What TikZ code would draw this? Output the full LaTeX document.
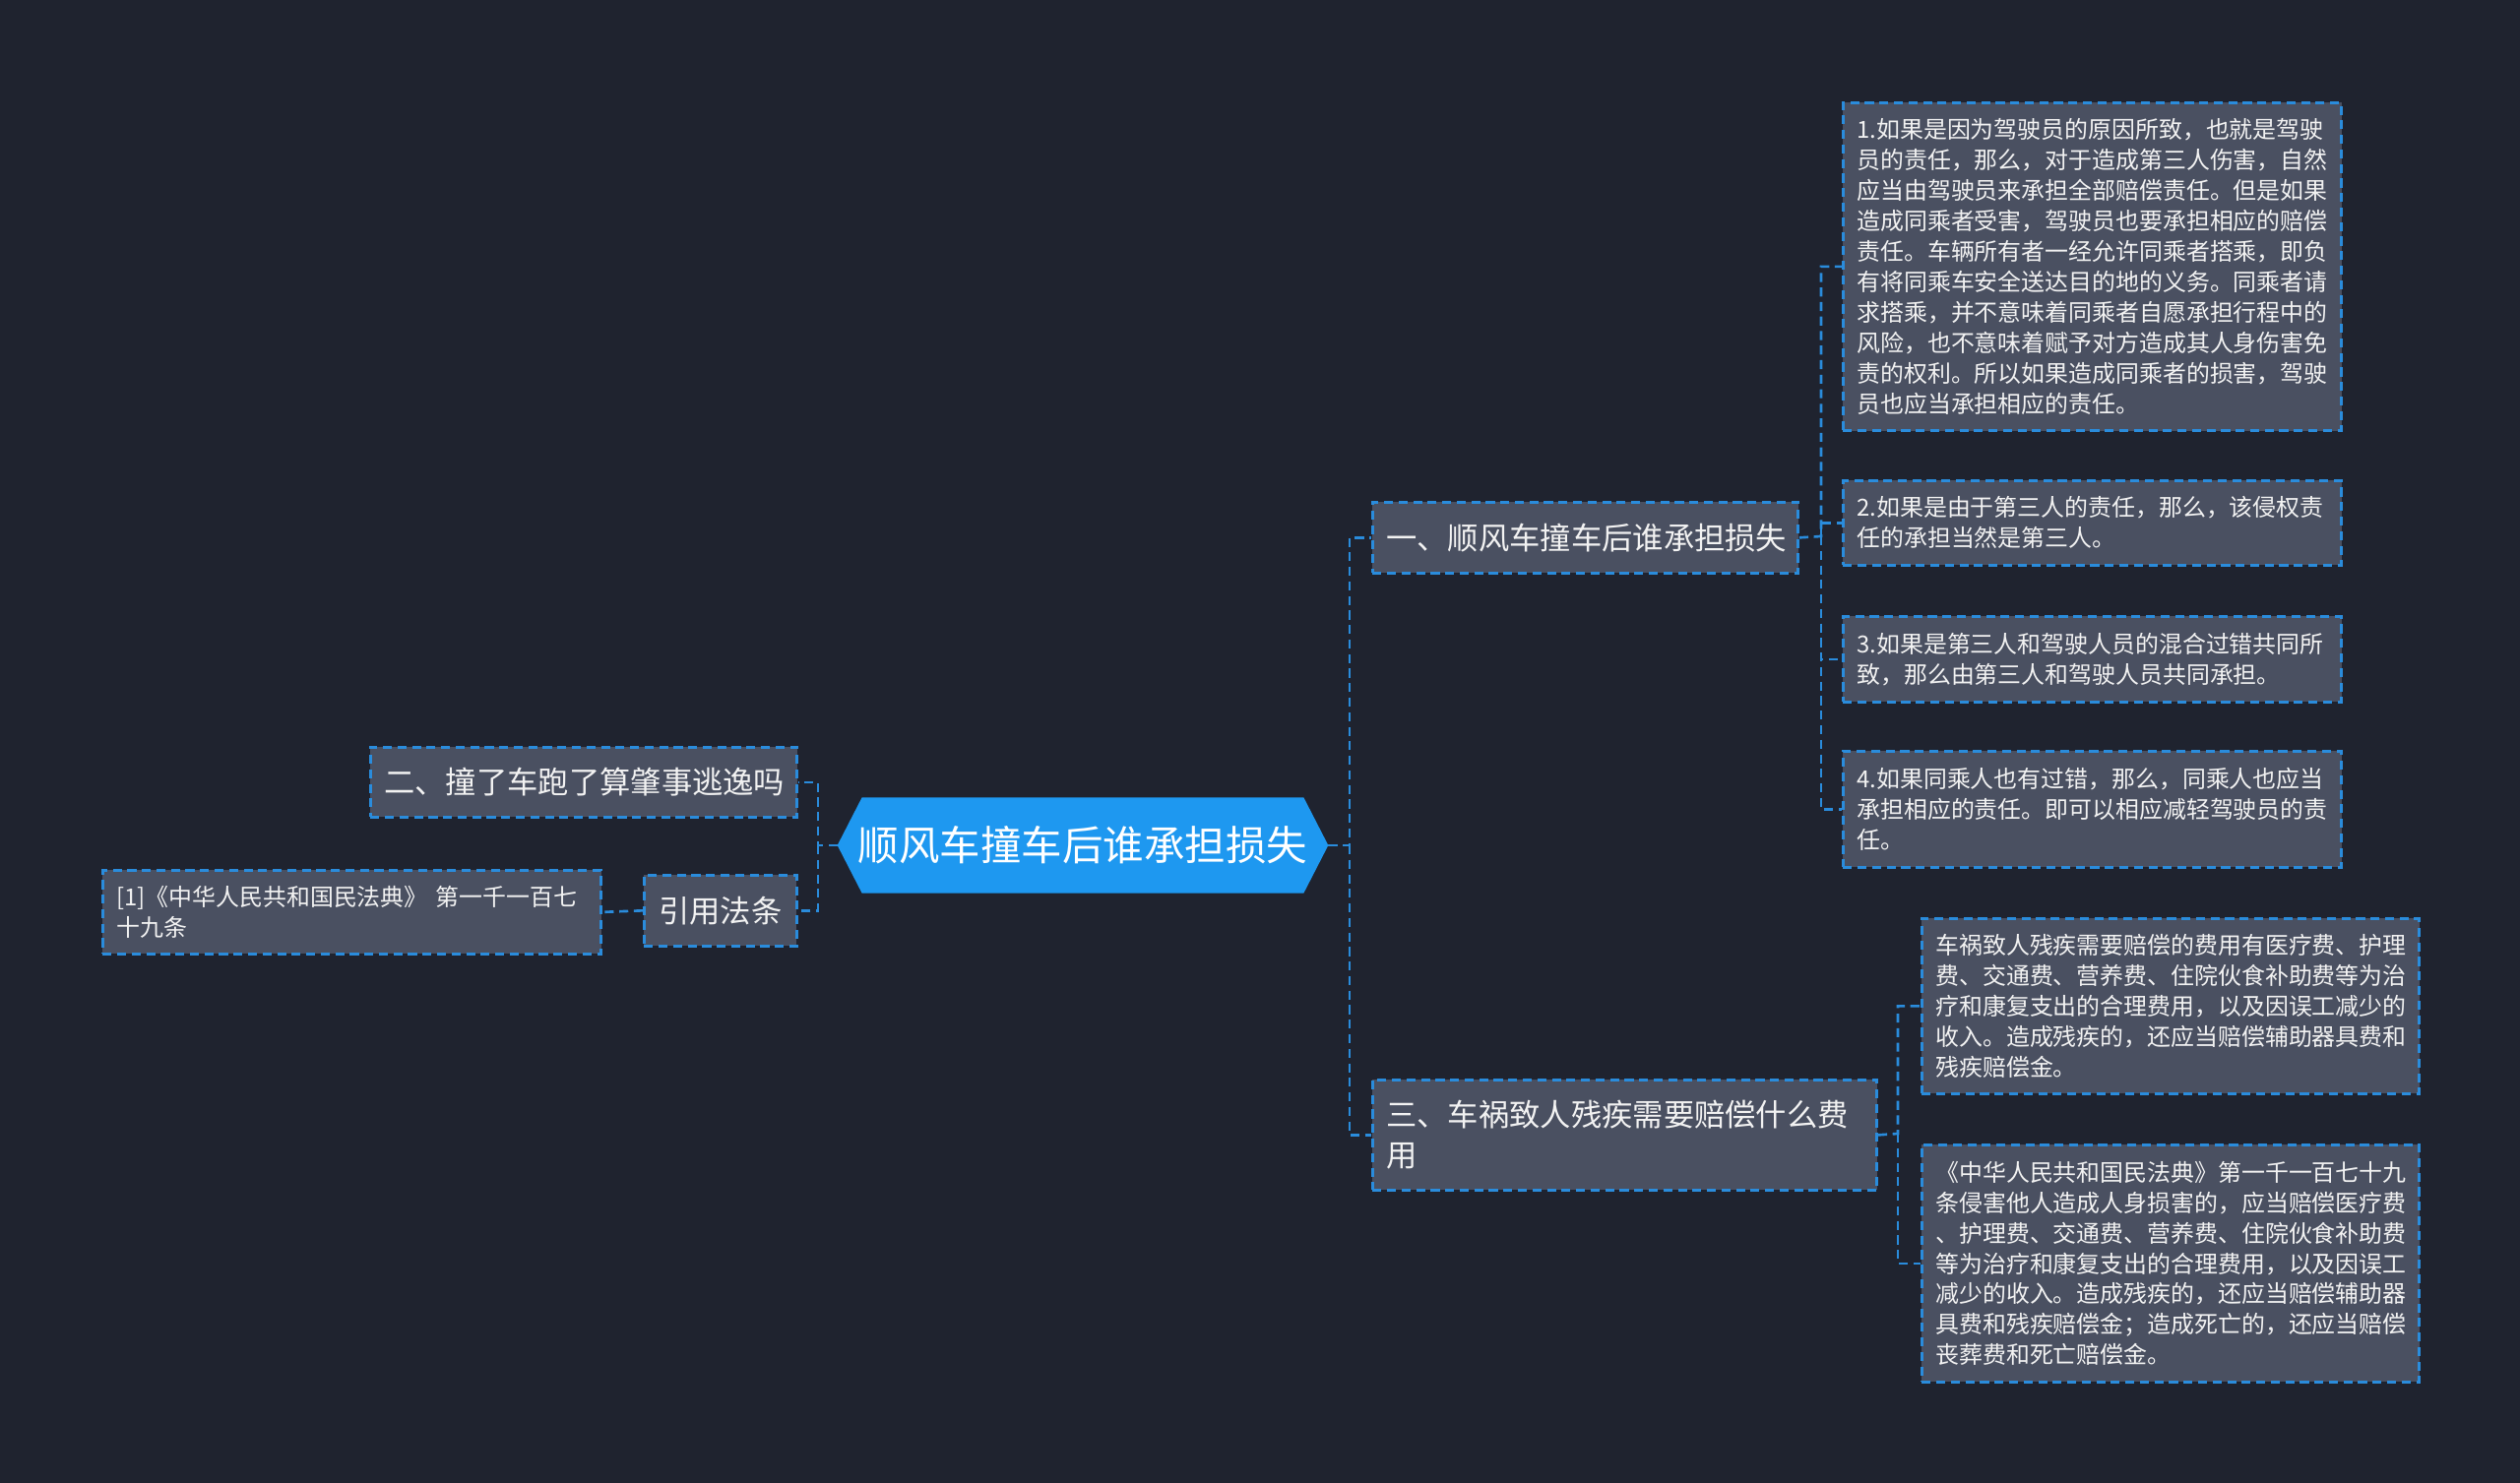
\documentclass[tikz,border=0pt]{standalone}
\usepackage{fontspec}
\setmainfont{Noto Sans CJK SC}
\usetikzlibrary{backgrounds}

\definecolor{bgnavy}{HTML}{1F232F}
\definecolor{boxgray}{HTML}{4A5061}
\definecolor{linkblue}{HTML}{2A8CDC}
\definecolor{rootblue}{HTML}{1E98F0}
\definecolor{textwhite}{HTML}{F2F2F2}

\newcommand{\leaffont}{\fontsize{6.8pt}{8.8pt}\selectfont}
\newcommand{\topicfont}{\fontsize{8.9pt}{11.6pt}\selectfont}
\newcommand{\rootfont}{\fontsize{11.8pt}{14pt}\selectfont}

\begin{document}
\begin{tikzpicture}[x=0.01cm, y=-0.01cm,
    box/.style={draw=linkblue, line width=0.75pt, dash pattern=on 2.6pt off 1.6pt,
                fill=boxgray, text=textwhite, inner xsep=0.14cm, inner ysep=0pt,
                align=left, anchor=north west},
    leaf/.style={box, font=\leaffont},
    topic/.style={box, font=\topicfont},
    link/.style={draw=linkblue, line width=0.75pt, dash pattern=on 2.6pt off 1.6pt}]
  \useasboundingbox (0,0) rectangle (2560,1507);

  % centre topic
  \node[minimum width=4.97cm, minimum height=0.96cm, text=white, font=\rootfont] (root) at (1100,859) {顺风车撞车后谁承担损失};

  % left side
  \node[topic, minimum width=4.33cm, minimum height=0.71cm, text width=4.05cm] (ask) at (375,758) {二、撞了车跑了算肇事逃逸吗};
  \node[topic, minimum width=1.55cm, minimum height=0.72cm, text width=1.27cm, align=center] (cite) at (653,888) {引用法条};
  \node[leaf, minimum width=5.06cm, minimum height=0.85cm, text width=4.78cm] (law) at (103,883) {[1]《中华人民共和国民法典》 第一千一百七\\十九条};

  % right side, first branch
  \node[topic, minimum width=4.32cm, minimum height=0.72cm, text width=4.04cm] (who) at (1393,509) {一、顺风车撞车后谁承担损失};
  \node[leaf, minimum width=5.06cm, minimum height=3.33cm, text width=4.78cm] (c1) at (1871,103) {1.如果是因为驾驶员的原因所致，也就是驾驶\\员的责任，那么，对于造成第三人伤害，自然\\应当由驾驶员来承担全部赔偿责任。但是如果\\造成同乘者受害，驾驶员也要承担相应的赔偿\\责任。车辆所有者一经允许同乘者搭乘，即负\\有将同乘车安全送达目的地的义务。同乘者请\\求搭乘，并不意味着同乘者自愿承担行程中的\\风险，也不意味着赋予对方造成其人身伤害免\\责的权利。所以如果造成同乘者的损害，驾驶\\员也应当承担相应的责任。};
  \node[leaf, minimum width=5.06cm, minimum height=0.86cm, text width=4.78cm] (c2) at (1871,487) {2.如果是由于第三人的责任，那么，该侵权责\\任的承担当然是第三人。};
  \node[leaf, minimum width=5.06cm, minimum height=0.87cm, text width=4.78cm] (c3) at (1871,625) {3.如果是第三人和驾驶人员的混合过错共同所\\致，那么由第三人和驾驶人员共同承担。};
  \node[leaf, minimum width=5.06cm, minimum height=1.18cm, text width=4.78cm] (c4) at (1871,762) {4.如果同乘人也有过错，那么，同乘人也应当\\承担相应的责任。即可以相应减轻驾驶员的责\\任。};

  % right side, third branch
  \node[topic, minimum width=5.12cm, minimum height=1.12cm, text width=4.84cm] (cost) at (1393,1096) {三、车祸致人残疾需要赔偿什么费\\用};
  \node[leaf, minimum width=5.05cm, minimum height=1.78cm, text width=4.77cm] (f1) at (1951,932) {车祸致人残疾需要赔偿的费用有医疗费、护理\\费、交通费、营养费、住院伙食补助费等为治\\疗和康复支出的合理费用，以及因误工减少的\\收入。造成残疾的，还应当赔偿辅助器具费和\\残疾赔偿金。};
  \node[leaf, minimum width=5.05cm, minimum height=2.41cm, text width=4.77cm] (f2) at (1951,1162) {《中华人民共和国民法典》第一千一百七十九\\条侵害他人造成人身损害的，应当赔偿医疗费\\、护理费、交通费、营养费、住院伙食补助费\\等为治疗和康复支出的合理费用，以及因误工\\减少的收入。造成残疾的，还应当赔偿辅助器\\具费和残疾赔偿金；造成死亡的，还应当赔偿\\丧葬费和死亡赔偿金。};

  \begin{scope}[on background layer]
    \fill[bgnavy] (0,0) rectangle (2560,1507);
    \fill[rootblue] (root.west) -- ([xshift=0.25cm]root.north west) -- ([xshift=-0.25cm]root.north east)
      -- (root.east) -- ([xshift=-0.25cm]root.south east) -- ([xshift=0.25cm]root.south west) -- cycle;
  \end{scope}

  % connectors
  \coordinate (jr) at (1371,859);
  \coordinate (jl) at (831,859);
  \coordinate (j1) at (1850,545);
  \coordinate (j3) at (1928,1152);
  \draw[link] (root.east) -- (jr) |- (who.west);
  \draw[link] (jr) |- (cost.west);
  \draw[link] (root.west) -- (jl) |- (ask.east);
  \draw[link] (jl) |- (cite.east);
  \draw[link] (cite.west) -- (law.east);
  \draw[link] (who.east) -- (j1) |- (c1.west);
  \draw[link] (j1) |- (c2.west);
  \draw[link] (j1) |- (c3.west);
  \draw[link] (j1) |- (c4.west);
  \draw[link] (cost.east) -- (j3) |- (f1.west);
  \draw[link] (j3) |- (f2.west);
\end{tikzpicture}
\end{document}
